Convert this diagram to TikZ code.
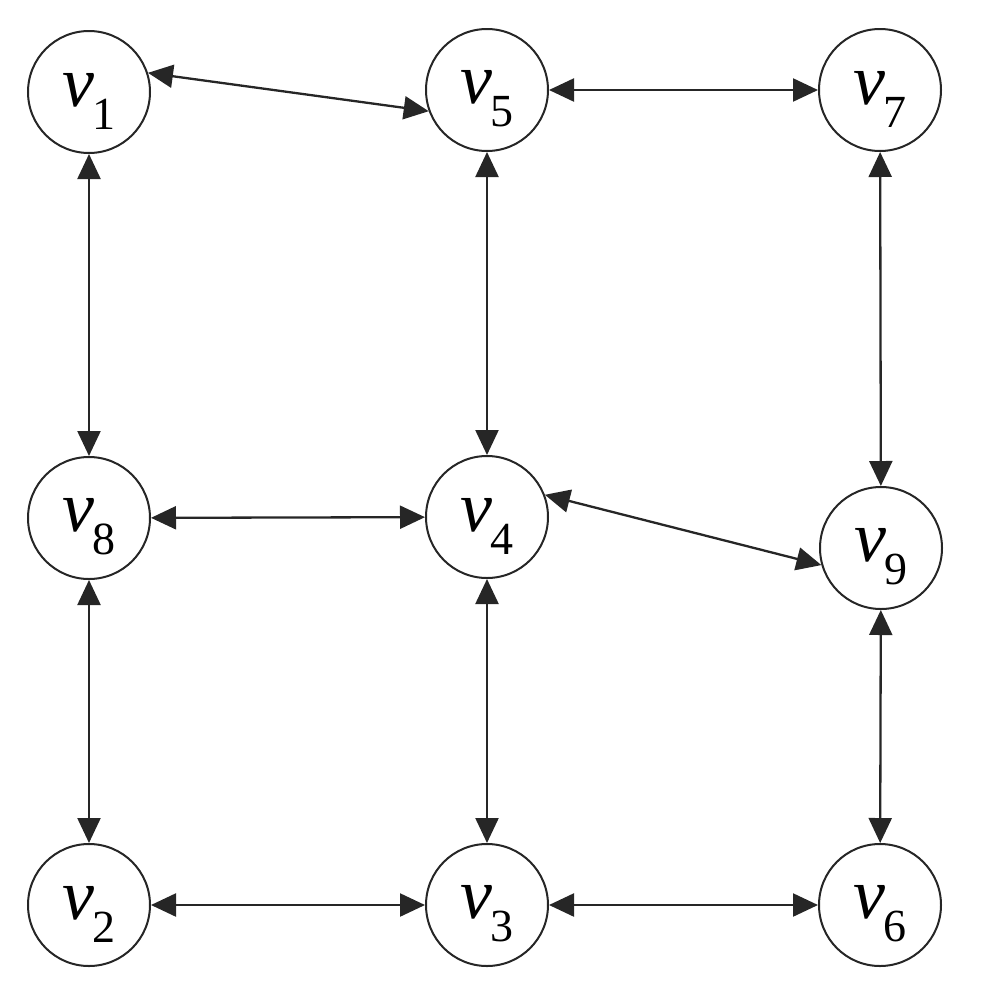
\documentclass[tikz,border=0pt]{standalone}
\usepackage{fontspec}
\setmainfont{Liberation Serif}
\usetikzlibrary{arrows.meta}
\newcommand{\vlab}[1]{{\itshape v}\kern-0.04em\raisebox{-0.32em}{\fontsize{46}{50}\selectfont #1}}
\tikzset{
  vtx/.style={circle,draw=black!85,line width=2pt,minimum size=122pt,inner sep=0pt,
    label={[font=\fontsize{72}{80}\selectfont,yshift=-9pt,inner sep=0pt]center:\vlab{#1}}},
  edge/.style={line width=2.3pt,draw=black!85,{Triangle[length=25pt,width=23pt]}-{Triangle[length=25pt,width=23pt]}}
}
\begin{document}
\begin{tikzpicture}[x=1pt,y=-1pt]
\useasboundingbox (0,0) rectangle (982,986);
\node[vtx=1] (v1) at (89,92) {};
\node[vtx=5] (v5) at (487,90) {};
\node[vtx=7] (v7) at (880,90) {};
\node[vtx=8] (v8) at (89,518) {};
\node[vtx=4] (v4) at (487,517) {};
\node[vtx=9] (v9) at (881,548) {};
\node[vtx=2] (v2) at (89,905) {};
\node[vtx=3] (v3) at (487,905) {};
\node[vtx=6] (v6) at (880,905) {};
\draw[edge] (v1.18) -- (v5.200);
\draw[edge] (v5) -- (v7);
\draw[edge] (v1) -- (v8);
\draw[edge] (v5) -- (v4);
\draw[edge] (v7) -- (v9);
\draw[edge] (v8) -- (v4);
\draw[edge] (v4.21) -- (v9.196);
\draw[edge] (v8) -- (v2);
\draw[edge] (v4) -- (v3);
\draw[edge] (v9) -- (v6);
\draw[edge] (v2) -- (v3);
\draw[edge] (v3) -- (v6);
\end{tikzpicture}
\end{document}
